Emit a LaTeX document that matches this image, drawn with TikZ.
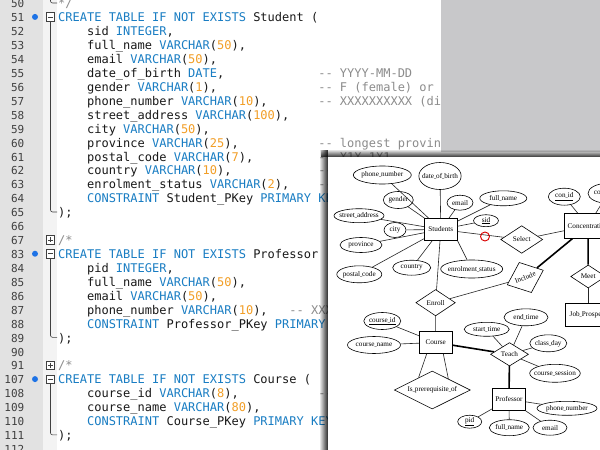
\documentclass[tikz,border=0pt]{standalone}
\usepackage{fontspec}
\setmonofont{DejaVu Sans Mono}
\newfontfamily\erserif{Liberation Serif}
\usetikzlibrary{shapes.geometric,fadings}

\definecolor{kwblue}{RGB}{25,125,195}
\definecolor{numorange}{RGB}{242,158,38}
\definecolor{cmgray}{RGB}{140,140,140}
\definecolor{gutter}{RGB}{226,226,226}
\definecolor{foldcol}{RGB}{243,243,243}
\definecolor{backwin}{RGB}{200,200,202}
\definecolor{dotblue}{RGB}{30,115,230}

\newcommand{\kwd}[1]{\textcolor{kwblue}{#1}}
\newcommand{\numc}[1]{\textcolor{numorange}{#1}}
\newcommand{\cmt}[1]{\textcolor{cmgray}{#1}}
\newcommand{\erfont}{\erserif\fontsize{7.2}{8}\selectfont}
\newcommand{\us}{\scalebox{0.6}[1]{\_}}
% one code line: name, row, column, text
\newcommand{\codeline}[4]{\node[code] (#1) at ({58+#3*7.225},{7.8+#2*13.93}) {#4};}

\tikzset{
	code/.style={anchor=base west, inner sep=0, font=\ttfamily\fontsize{12}{14}\selectfont, text=black!90},
	lnum/.style={anchor=base east, inner sep=0, font=\ttfamily\fontsize{11}{14}\selectfont, text=black!75},
	foldbox/.style={draw=black!75, fill=white, minimum size=8.5, inner sep=0, line width=0.6},
	ent/.style={draw, rectangle, minimum width=33, minimum height=22, inner sep=2, font=\erfont, line width=0.6},
	rel/.style={draw, diamond, aspect=1.5, inner sep=0, font=\erfont, line width=0.6},
	attr/.style={draw, ellipse, inner xsep=-3, inner ysep=0, font=\erfont, line width=0.6},
	conn/.style={line width=0.6, black!85},
	thickconn/.style={line width=1.6, black},
	redring/.style={draw=red!85!black, circle, minimum size=9, inner sep=0, line width=0.9}
}

\begin{document}
\begin{tikzpicture}[x=1pt, y=-1pt]
	%%%%% FRAME %%%%%
	\useasboundingbox (0,0) rectangle (600,450);
	\clip (0,0) rectangle (600,450);
	\fill[white] (0,0) rectangle (600,450);
	\fill[gutter] (0,0) rectangle (43,450);
	\fill[foldcol] (43,0) rectangle (57,450);

	%%%%% GUTTER %%%%%
	\foreach \lno [count=\r from 0] in {50,51,...,67,83,84,...,91,107,108,...,112}
		\node[lnum] (n\lno) at (24.5,{7.8+\r*13.93}) {\lno};
	\foreach \r in {1,18,27}
		\fill[dotblue] (35,{3+\r*13.93}) circle (3);

	\foreach \r/\e [count=\i] in {1/15,18/24,27/31} {
		\node[foldbox] (fold\i) at (50.5,{3+\r*13.93}) {};
		\draw[black!75, line width=0.6] ([xshift=2]fold\i.west) -- ([xshift=-2]fold\i.east);
		\draw[black!75, line width=0.6, rounded corners=2] (fold\i.south) |- (57,{3+\e*13.93});
	}
	\foreach \r [count=\i] in {17,26} {
		\node[foldbox] (plus\i) at (50.5,{3+\r*13.93}) {};
		\draw[black!75, line width=0.6] ([xshift=2]plus\i.west) -- ([xshift=-2]plus\i.east)
			([yshift=-2]plus\i.north) -- ([yshift=2]plus\i.south);
	}
	\draw[black!75, line width=0.6, rounded corners=2] (50.5,-5) |- (57,3);

	%%%%% CODE %%%%%
	\begin{scope}
		\clip (0,0) -- (441,0) -- (441,157) -- (328,157) -- (328,450) -- (0,450) -- cycle;
		\codeline{c50}{0}{0}{\cmt{*/}}
		\codeline{c51}{1}{0}{\kwd{CREATE TABLE IF NOT EXISTS} Student (}
		\codeline{c52}{2}{4}{sid \kwd{INTEGER},}
		\codeline{c53}{3}{4}{full\_name \kwd{VARCHAR}(\numc{50}),}
		\codeline{c54}{4}{4}{email \kwd{VARCHAR}(\numc{50}),}
		\codeline{c55}{5}{4}{date\_of\_birth \kwd{DATE},}
		\codeline{m55}{5}{36}{\cmt{-- YYYY-MM-DD}}
		\codeline{c56}{6}{4}{gender \kwd{VARCHAR}(\numc{1}),}
		\codeline{m56}{6}{36}{\cmt{-- F (female) or}}
		\codeline{c57}{7}{4}{phone\_number \kwd{VARCHAR}(\numc{10}),}
		\codeline{m57}{7}{36}{\cmt{-- XXXXXXXXXX (di}}
		\codeline{c58}{8}{4}{street\_address \kwd{VARCHAR}(\numc{100}),}
		\codeline{c59}{9}{4}{city \kwd{VARCHAR}(\numc{50}),}
		\codeline{c60}{10}{4}{province \kwd{VARCHAR}(\numc{25}),}
		\codeline{m60}{10}{36}{\cmt{-- longest provin}}
		\codeline{c61}{11}{4}{postal\_code \kwd{VARCHAR}(\numc{7}),}
		\codeline{m61}{11}{36}{\cmt{-- X1X 1X1}}
		\codeline{c62}{12}{4}{country \kwd{VARCHAR}(\numc{10}),}
		\codeline{m62}{12}{36}{\cmt{--}}
		\codeline{c63}{13}{4}{enrolment\_status \kwd{VARCHAR}(\numc{2}),}
		\codeline{m63}{13}{36}{\cmt{--}}
		\codeline{c64}{14}{4}{\kwd{CONSTRAINT} Student\_PKey \kwd{PRIMARY KEY}}
		\codeline{c65}{15}{0}{);}
		\codeline{c67}{17}{0}{\cmt{/*}}
		\codeline{c83}{18}{0}{\kwd{CREATE TABLE IF NOT EXISTS} Professor (}
		\codeline{c84}{19}{4}{pid \kwd{INTEGER},}
		\codeline{c85}{20}{4}{full\_name \kwd{VARCHAR}(\numc{50}),}
		\codeline{c86}{21}{4}{email \kwd{VARCHAR}(\numc{50}),}
		\codeline{c87}{22}{4}{phone\_number \kwd{VARCHAR}(\numc{10}),}
		\codeline{m87}{22}{32}{\cmt{-- XXXXXXXXXX}}
		\codeline{c88}{23}{4}{\kwd{CONSTRAINT} Professor\_PKey \kwd{PRIMARY}}
		\codeline{c89}{24}{0}{);}
		\codeline{c91}{26}{0}{\cmt{/*}}
		\codeline{c107}{27}{0}{\kwd{CREATE TABLE IF NOT EXISTS} Course (}
		\codeline{c108}{28}{4}{course\_id \kwd{VARCHAR}(\numc{8}),}
		\codeline{m108}{28}{36}{\cmt{--}}
		\codeline{c109}{29}{4}{course\_name \kwd{VARCHAR}(\numc{80}),}
		\codeline{c110}{30}{4}{\kwd{CONSTRAINT} Course\_PKey \kwd{PRIMARY KEY}}
		\codeline{c111}{31}{0}{);}
	\end{scope}

	%%%%% WINDOWS %%%%%
	\fill[backwin] (441,0) rectangle (600,152);
	\fill[black, opacity=0.8, path fading=north] (321,149) rectangle (600,157);
	\fill[black, opacity=0.85, path fading=west] (319,150) rectangle (328,450);
	\fill[white] (328,157) rectangle (600,450);

	%%%%% ER DIAGRAM %%%%%
	\node[ent] (stu) at (440.8,229.5) {Students};
	\node[ent] (crs) at (435.7,342.5) {Course};
	\node[ent] (prof) at (509,399.2) {Professor};
	\node[ent, minimum width=47, minimum height=25] (conc) at (588,225.8) {Concentration};
	\node[ent, minimum width=45, minimum height=23] (job) at (588.2,314.7) {Job\us Prospect};

	\node[rel, minimum width=42, minimum height=27.6] (sel) at (521.7,239.5) {Select};
	\node[rel, minimum width=39.5, minimum height=26.4] (enr) at (435.6,302.7) {Enroll};
	\node[rel, minimum width=39, minimum height=32.6, rotate=22] (inc) at (525.3,277.5) {Include};
	\node[rel, minimum width=35, minimum height=23] (meet) at (588.2,276.5) {Meet};
	\node[rel, minimum width=38, minimum height=23.4] (teach) at (509.5,354.3) {Teach};
	\node[rel, aspect=2, minimum width=76, minimum height=38] (isp) at (432.3,390) {Is\us prerequisite\us of};

	\node[attr, minimum width=58, minimum height=18] (pn) at (382.3,175) {phone\us number};
	\node[attr, minimum width=42, minimum height=27] (dob) at (440,176) {date\us of\us birth};
	\node[attr, minimum width=30, minimum height=17] (gen) at (398.3,200) {gender};
	\node[attr, minimum width=26, minimum height=15] (em) at (460,202.7) {email};
	\node[attr, minimum width=47, minimum height=15] (fn) at (503.3,198.3) {full\us name};
	\node[attr, minimum width=25, minimum height=12] (sid) at (486,220.7) {\underline{sid}};
	\node[attr, minimum width=50, minimum height=14] (sa) at (359,215.7) {street\us address};
	\node[attr, minimum width=22, minimum height=15] (city) at (395,230) {city};
	\node[attr, minimum width=42, minimum height=15] (prov) at (361,245) {province};
	\node[attr, minimum width=45, minimum height=17] (pc) at (359.3,274.3) {postal\us code};
	\node[attr, minimum width=38, minimum height=15] (ctry) at (411.7,267.7) {country};
	\node[attr, minimum width=62, minimum height=18] (es) at (471.7,269) {enrolment\us status};
	\node[attr, minimum width=32, minimum height=17] (cid) at (564.3,196.7) {\underline{con\us id}};
	\node[attr, minimum width=40, minimum height=20] (cname) at (608,193.3) {con\us name};
	\node[attr, minimum width=37, minimum height=17] (crsid) at (382.3,321) {\underline{course\us id}};
	\node[attr, minimum width=53, minimum height=17] (crsname) at (374,345) {course\us name};
	\node[attr, minimum width=45, minimum height=14] (st) at (486.7,329.3) {start\us time};
	\node[attr, minimum width=44, minimum height=17] (et) at (526,317.3) {end\us time};
	\node[attr, minimum width=37, minimum height=17] (cd) at (548.3,343.3) {class\us day};
	\node[attr, minimum width=49, minimum height=18] (cs) at (555,373.3) {course\us session};
	\node[attr, minimum width=60, minimum height=14] (ppn) at (567,408.3) {phone\us number};
	\node[attr, minimum width=24, minimum height=13] (pid) at (469.7,421.7) {\underline{pid}};
	\node[attr, minimum width=40, minimum height=16] (pfn) at (509.3,427.7) {full\us name};
	\node[attr, minimum width=34, minimum height=15] (pem) at (550,427.7) {email};

	\foreach \a in {pn,dob,gen,em,fn,sid,sa,city,prov,pc,ctry}
		\draw[conn] (\a) -- (stu);
	\draw[conn] (es) -- (stu.south east);
	\draw[conn] (stu) -- (sel);
	\draw[conn] (stu) -- (enr);
	\draw[conn] (sel) -- (conc);
	\draw[conn] (cid) -- (conc);
	\draw[conn] (cname) -- (conc);
	\draw[thickconn] (conc) -- (meet);
	\draw[thickconn] (conc) -- (inc);
	\draw[conn] (meet) -- (job);
	\draw[conn] (inc) -- (enr);
	\draw[conn] (enr) -- (crs);
	\draw[conn] (crsid) -- (crs);
	\draw[conn] (crsname) -- (crs);
	\draw[conn] ([xshift=-9]crs.south) -- (isp.138);
	\draw[conn] ([xshift=7.6]crs.south) -- (isp.35);
	\draw[thickconn] (crs) -- (teach);
	\draw[thickconn] (teach) -- (prof);
	\foreach \a in {st,et,cd,cs}
		\draw[conn] (\a) -- (teach);
	\foreach \a in {ppn,pid,pfn,pem}
		\draw[conn] (\a) -- (prof);
	\node[redring] (ring) at (485,236.5) {};
\end{tikzpicture}
\end{document}
